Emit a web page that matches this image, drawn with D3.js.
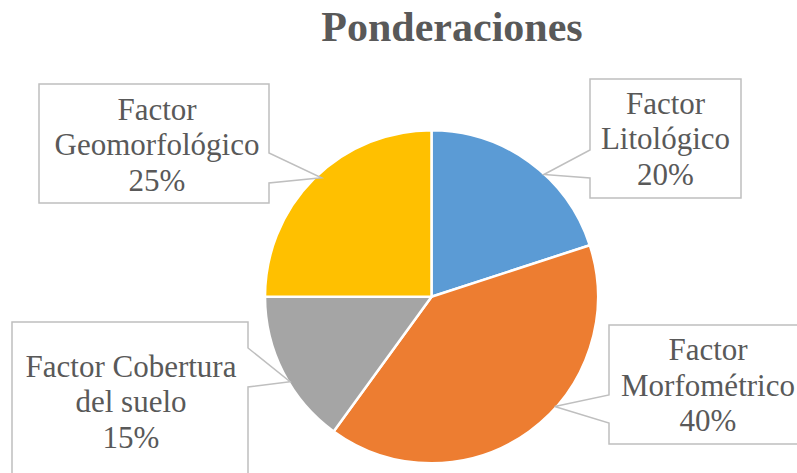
<!DOCTYPE html>
<html>
<head>
<meta charset="utf-8">
<script src="https://cdn.jsdelivr.net/npm/d3@7"></script>
<style>
  html, body { margin: 0; padding: 0; background: #fff; }
  svg { display: block; }
</style>
</head>
<body>
<script>
// ---- data ----
const categories = ["Factor Litológico", "Factor Morfométrico", "Factor Cobertura del suelo", "Factor Geomorfológico"];
const values = [20, 40, 15, 25];
const labelLines = [
  ["Factor", "Litológico", "20%"],
  ["Factor", "Morfométrico", "40%"],
  ["Factor Cobertura", "del suelo", "15%"],
  ["Factor", "Geomorfológico", "25%"]
];
const title = "Ponderaciones";

// ---- layout / style ----
const W = 797, H = 473;
const colors = ["#5B9BD5", "#ED7D31", "#A5A5A5", "#FFC000"];
const cx = 431.5, cy = 296.7, R = 166.5;
// callout boxes: x, y, w, h, side of pointer, pointer attach y1/y2, tip angle (deg), tip radius, text anchor
const callouts = [
  { x: 590, y: 79,  w: 151, h: 119, side: "left",  y1: 150, y2: 178, ang: 42.6,  r: 166, tx: 665.5, ty: 113.5 },
  { x: 609, y: 325, w: 200, h: 119, side: "left",  y1: 395, y2: 423, ang: 131.7, r: 165, tx: 708,   ty: 360 },
  { x: 12,  y: 322, w: 236, h: 170, side: "right", y1: 348, y2: 387, ang: 239,   r: 165, tx: 131,   ty: 376.5 },
  { x: 39,  y: 84,  w: 230, h: 119, side: "right", y1: 153, y2: 183, ang: 317.2, r: 162, tx: 157,   ty: 119.5 }
];
const lineGap = 35.5;
const textColor = "#595959";
const borderColor = "#BFBFBF";
const font = "'Liberation Serif', 'Times New Roman', Times, serif";

const svg = d3.select("body").append("svg").attr("width", W).attr("height", H);

svg.append("text")
  .attr("x", 452).attr("y", 41)
  .attr("text-anchor", "middle")
  .style("font-family", font).style("font-weight", "bold").style("font-size", "42px")
  .attr("fill", textColor)
  .text(title);

const pie = d3.pie().sort(null).value(d => d);
const arcs = pie(values);
const arc = d3.arc().innerRadius(0).outerRadius(R);

const g = svg.append("g").attr("transform", `translate(${cx},${cy})`);
g.selectAll("path.slice").data(arcs).enter().append("path")
  .attr("class", "slice")
  .attr("d", arc)
  .attr("fill", (d, i) => colors[i])
  .attr("stroke", "#fff")
  .attr("stroke-width", 2.5)
  .attr("stroke-linejoin", "round");

// callouts
const lab = svg.append("g");
callouts.forEach((c, i) => {
  const a = c.ang * Math.PI / 180;
  const tipX = cx + Math.sin(a) * c.r;
  const tipY = cy - Math.cos(a) * c.r;
  const L = c.x, T = c.y, Rr = c.x + c.w, B = c.y + c.h;
  const p = d3.path();
  if (c.side === "right") {
    p.moveTo(L, T); p.lineTo(Rr, T); p.lineTo(Rr, c.y1); p.lineTo(tipX, tipY);
    p.lineTo(Rr, c.y2); p.lineTo(Rr, B); p.lineTo(L, B); p.closePath();
  } else {
    p.moveTo(L, T); p.lineTo(Rr, T); p.lineTo(Rr, B); p.lineTo(L, B);
    p.lineTo(L, c.y2); p.lineTo(tipX, tipY); p.lineTo(L, c.y1); p.closePath();
  }
  lab.append("path").attr("d", p.toString())
    .attr("fill", "#fff").attr("stroke", borderColor).attr("stroke-width", 1.5);
  const t = lab.append("text")
    .attr("text-anchor", "middle")
    .style("font-family", font).style("font-size", "31px")
    .attr("fill", textColor);
  labelLines[i].forEach((ln, k) => {
    t.append("tspan").attr("x", c.tx).attr("y", c.ty + k * lineGap).text(ln);
  });
});
</script>
</body>
</html>
